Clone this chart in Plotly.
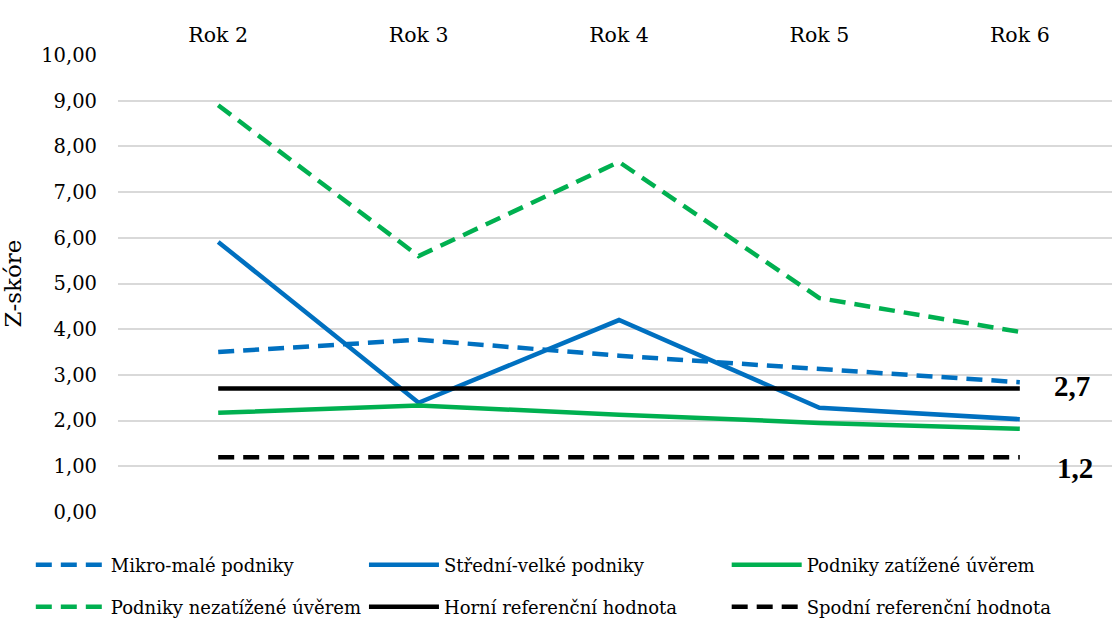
import plotly.graph_objects as go

years = ["Rok 2", "Rok 3", "Rok 4", "Rok 5", "Rok 6"]
mikro_male = [3.50, 3.77, 3.42, 3.13, 2.84]
stredni_velke = [5.91, 2.39, 4.20, 2.28, 2.03]
zatizene = [2.17, 2.33, 2.13, 1.95, 1.82]
nezatizene = [8.90, 5.60, 7.66, 4.68, 3.94]
horni = [2.7, 2.7, 2.7, 2.7, 2.7]
spodni = [1.2, 1.2, 1.2, 1.2, 1.2]

BLUE = "#0070C0"
GREEN = "#00B050"
BLACK = "#000000"
FONT = "DejaVu Serif"
BOLDFONT = "Liberation Serif"

series = [
    ("Mikro-malé podniky", mikro_male, BLUE, "16px,9px", "legend"),
    ("Střední-velké podniky", stredni_velke, BLUE, "solid", "legend2"),
    ("Podniky zatížené úvěrem", zatizene, GREEN, "solid", "legend3"),
    ("Podniky nezatížené úvěrem", nezatizene, GREEN, "16px,9px", "legend4"),
    ("Horní referenční hodnota", horni, BLACK, "solid", "legend5"),
    ("Spodní referenční hodnota", spodni, BLACK, "16px,9px", "legend6"),
]

fig = go.Figure()
for name, vals, color, dash, lg in series:
    fig.add_trace(go.Scatter(
        x=years, y=vals, name=name, mode="lines",
        line=dict(color=color, width=4.5, dash=dash),
        legend=lg,
    ))

fig.add_annotation(x=4.26, y=horni[-1], text="<b>2,7</b>", showarrow=False,
                   xanchor="center", yanchor="middle", yshift=3,
                   font=dict(family=BOLDFONT, size=29, color="black"))
fig.add_annotation(x=4.275, y=spodni[-1], text="<b>1,2</b>", showarrow=False,
                   xanchor="center", yanchor="middle", yshift=-11,
                   font=dict(family=BOLDFONT, size=29, color="black"))

def lg(x, y):
    return dict(x=x, y=y, xref="container", yref="container", xanchor="left", yanchor="middle",
                orientation="h", font=dict(family=FONT, size=18, color="black"),
                bgcolor="rgba(0,0,0,0)", itemwidth=70)

row1 = 1 - 565 / 619
row2 = 1 - 607 / 619

fig.update_layout(
    width=1112, height=619,
    margin=dict(l=118, r=0, t=55, b=107, autoexpand=False),
    plot_bgcolor="white", paper_bgcolor="white",
    separators=", ",
    font=dict(family=FONT, size=19.5, color="black"),
    xaxis=dict(type="category", side="top", range=[-0.5, 4.46], showgrid=False,
               showline=False, zeroline=False, ticks="", ticklabelstandoff=8,
               tickfont=dict(family=FONT, size=20.5)),
    yaxis=dict(range=[0, 10], dtick=1, tickformat=".2f", showgrid=True,
               gridcolor="#D9D9D9", gridwidth=1.5, zeroline=False, showline=False,
               ticks="", ticklabelstandoff=20, tickfont=dict(family=FONT, size=19.5),
               title=dict(text="Z-skóre", font=dict(family=FONT, size=23), standoff=24)),
    showlegend=True,
    legend=lg(0.0277, row1),
    legend2=lg(0.3273, row1),
    legend3=lg(0.6535, row1),
    legend4=lg(0.0277, row2),
    legend5=lg(0.3273, row2),
    legend6=lg(0.6535, row2),
)

post = "document.body.style.margin='0';"
fig.write_html("out.html", post_script=post, config={"displayModeBar": False})
